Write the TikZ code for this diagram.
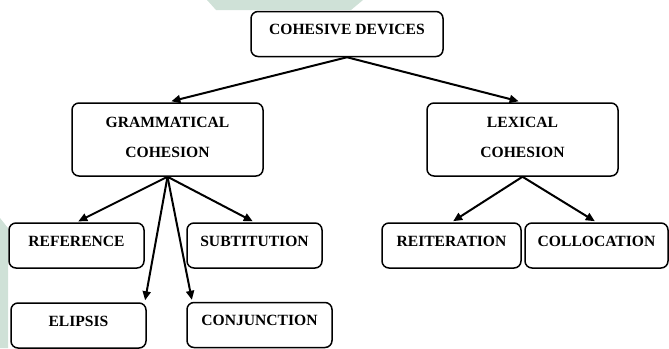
\documentclass[tikz,border=0pt]{standalone}
\usepackage{fontspec}
\setmainfont{Liberation Serif}
\usepackage{tikz}
\usetikzlibrary{arrows.meta}
\usepackage{xcolor}
\definecolor{markgreen}{RGB}{207,225,215}

\begin{document}
\begin{tikzpicture}[x=1pt, y=-1pt,
        box/.style={draw, line width=1.5pt, rounded corners=7pt, inner sep=0pt,
            font=\fontsize{15.6}{30}\selectfont\bfseries, align=center,
            text height=23.3pt, text depth=21.7pt},
        twobox/.style={box, text width=#1, text height=24.3pt, text depth=48.7pt},
        link/.style={line width=2pt, -{Triangle[length=9pt,width=8pt]}, shorten >=2pt}]
                \useasboundingbox (0,0) rectangle (669,348);
                % Faint background marks
                \fill[markgreen] (207,0) -- (363,0) -- (351,10) -- (216,10) -- cycle;
                \fill[markgreen] (0,218) -- (8,228) -- (8,348) -- (0,348) -- cycle;
                % Top box
                \node[box, minimum width=192pt] (cd) at (347,34) {COHESIVE DEVICES};
                % Two kinds of cohesion
                \node[twobox=191pt] (gc) at (167.5,139.5) {GRAMMATICAL\\COHESION};
                \node[twobox=191pt] (lc) at (522.5,139.5) {LEXICAL\\COHESION};
                % Grammatical devices
                \node[box, minimum width=135pt] (ref) at (76.5,245.5) {REFERENCE};
                \node[box, minimum width=135pt] (sub) at (254.5,245.5) {SUBTITUTION};
                \node[box, minimum width=135pt] (eli) at (78.5,325.5) {ELIPSIS};
                \node[box, minimum width=145pt] (conj) at (259.5,325) {CONJUNCTION};
                % Lexical devices
                \node[box, minimum width=139pt] (reit) at (451.5,245.5) {REITERATION};
                \node[box, minimum width=143pt] (coll) at (596.5,245.5) {COLLOCATION};
                % Arrows
                \draw[link, shorten >=4pt] (cd.south) -- (gc.north);
                \draw[link, shorten >=4pt] (cd.south) -- (lc.north);
                \draw[link] (gc.south) -- (ref.north);
                \draw[link] (gc.south) -- (sub.north);
                \draw[link] (gc.south) -- ([xshift=-2pt]eli.north east);
                \draw[link] (gc.south) -- ([xshift=6pt]conj.north west);
                \draw[link] (lc.south) -- (reit.north);
                \draw[link] (lc.south) -- (coll.north);
            \end{tikzpicture}
\end{document}
